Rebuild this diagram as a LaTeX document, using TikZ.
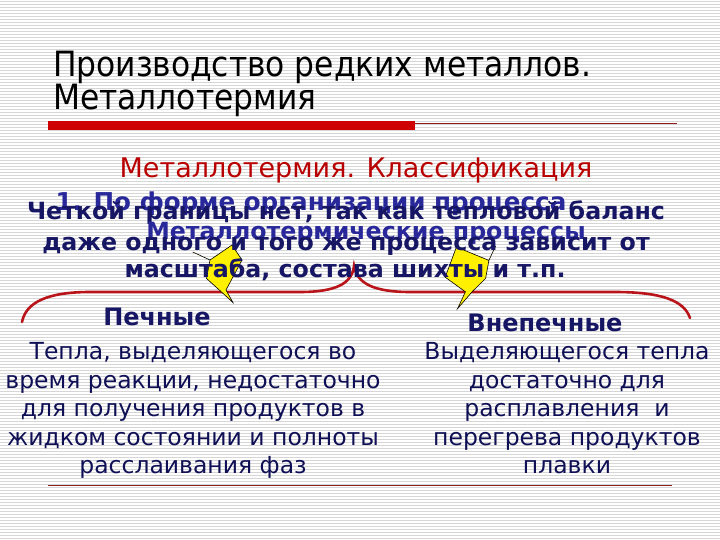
\documentclass[tikz,border=0pt]{standalone}
\usepackage{fontspec}
\setmainfont{DejaVu Sans}
\newfontfamily\titlefont{DejaVu Sans Condensed}
\definecolor{stripegray}{RGB}{214,214,214}
\definecolor{barred}{RGB}{206,0,0}
\definecolor{thinred}{RGB}{140,30,30}
\definecolor{bracered}{RGB}{185,20,25}
\definecolor{navydark}{RGB}{22,22,100}
\definecolor{navyblue}{RGB}{40,40,155}
\definecolor{bodynavy}{RGB}{15,15,85}
\definecolor{hiyellow}{RGB}{255,240,0}
\tikzset{
  stripe/.style={draw=stripegray,line width=1pt},
  ttl/.style={font=\titlefont\fontsize{34.8}{40}\selectfont,text=black,anchor=base west,inner sep=0pt},
  subttl/.style={font=\fontsize{27}{32}\selectfont,text=barred!90!black,anchor=base,inner sep=0pt},
  boldA/.style={font=\bfseries\fontsize{23.7}{28}\selectfont,text=navydark,anchor=base,inner sep=0pt},
  boldB/.style={font=\bfseries\fontsize{23.7}{28}\selectfont,text=navyblue,anchor=base,inner sep=0pt},
  head/.style={font=\bfseries\fontsize{24}{28}\selectfont,text=navydark,anchor=base,inner sep=0pt},
  body/.style={font=\fontsize{23.5}{28}\selectfont,text=bodynavy,anchor=base,inner sep=0pt},
  bracestyle/.style={draw=bracered,line width=2.6pt,line cap=round},
  flash/.style={draw=black,line width=0.6pt,fill=hiyellow,line join=miter},
}
\begin{document}
\begin{tikzpicture}[x=1pt,y=-1pt]
\useasboundingbox (0,0) rectangle (720,540);
\fill[white] (0,0) rectangle (720,540);
\foreach \i in {0,...,179} {\draw[stripe] (0,{\i*3+1.5}) -- (720,{\i*3+1.5});}

% title
\node[ttl] (t1) at (53,77) {Производство редких металлов.};
\node[ttl] (t2) at (53,110) {Металлотермия};
\fill[barred] (48,121) rectangle (415,130);
\coordinate (la) at (415,124);
\coordinate (lb) at (677,124);
\draw[thinred,line width=1pt] (la) -- (lb);

% brace
\draw[bracestyle] (22,322) .. controls (26,302) and (48,292) .. (90,292)
  -- (300,292) .. controls (335,292) and (352,284) .. (354,266)
  .. controls (357,284) and (375,292) .. (410,292)
  -- (615,292) .. controls (660,292) and (684,300) .. (690,318);

% yellow shapes
\draw[flash] (192.7,252) -- (210,260) -- (232,245) -- (242,260) -- (226,290)
  -- (233,302.6) -- (221.5,292) -- (206.5,278.5) -- (210,260);
\draw[flash] (495.6,246) -- (488.9,260.4) -- (456.4,247) -- (445.2,277.2) -- (465.4,291.8)
  -- (457.6,308.6) -- (472.1,291.8) -- (485.6,278.4) -- (488.9,260.4);

% subtitle and overlapping text
\node[subttl] (sub) at (356,178) {Металлотермия. Классификация};
\node[boldB,font=\bfseries\fontsize{24.6}{28}\selectfont] (p1) at (311,211) {1. По форме организации процесса};
\node[boldA] (c1) at (346,220) {Четкой границы нет, так как тепловой баланс};
\node[boldB] (p2) at (366,240) {Металлотермические процессы};
\node[boldA] (c2) at (346,250) {даже одного и того же процесса зависит от};
\node[boldA] (c3) at (345,277) {масштаба, состава шихты и т.п.};

% columns
\node[head] (h1) at (157,325) {Печные};
\node[head] (h2) at (545,331) {Внепечные};

\node[body] (l1) at (193,359) {Тепла, выделяющегося во};
\node[body] (l2) at (193,388) {время реакции, недостаточно};
\node[body] (l3) at (193,416) {для получения продуктов в};
\node[body] (l4) at (193,445) {жидком состоянии и полноты};
\node[body] (l5) at (193,473) {расслаивания фаз};

\node[body] (r1) at (567,359) {Выделяющегося тепла};
\node[body] (r2) at (567,388) {достаточно для};
\node[body] (r3) at (567,416) {расплавления\ \ и};
\node[body] (r4) at (567,445) {перегрева продуктов};
\node[body] (r5) at (567,473) {плавки};

\coordinate (ba) at (48,485);
\coordinate (bb) at (672,485);
\draw[thinred,line width=1pt] (ba) -- (bb);
\end{tikzpicture}
\end{document}
